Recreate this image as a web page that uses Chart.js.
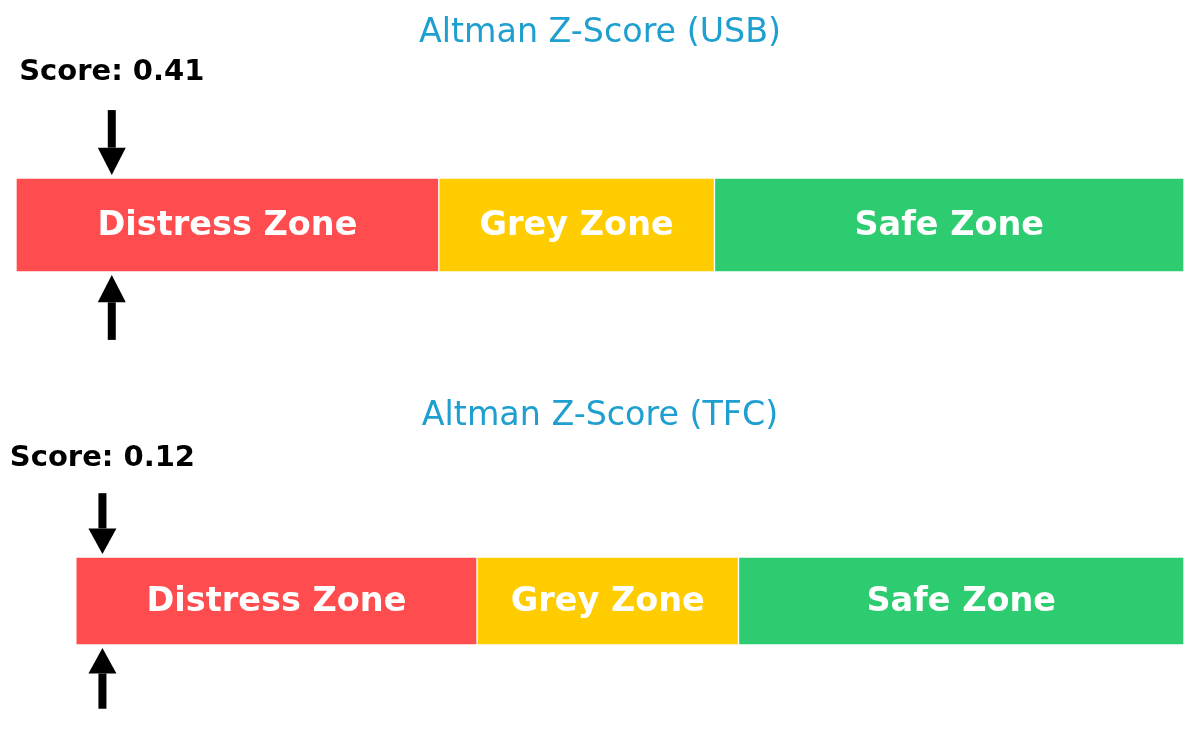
<!DOCTYPE html>
<html>
<head>
<meta charset="utf-8">
<script src="https://cdn.jsdelivr.net/npm/chart.js@4/dist/chart.umd.min.js"></script>
<style>
  body { margin: 0; background: #fff; }
  .panel { position: absolute; left: 0; width: 1200px; height: 377px; }
</style>
</head>
<body>
<div class="panel" style="top:0"><canvas id="chartUSB"></canvas></div>
<div class="panel" style="top:377px"><canvas id="chartTFC"></canvas></div>
<script>
// values
const companies = ['USB', 'TFC'];
const scores = [0.41, 0.12];
const zoneNames = ['Distress Zone', 'Grey Zone', 'Safe Zone'];
const zoneEdges = [0, 1.81, 2.99, 5];
const axisMin = [0, -0.27];
const axisMax = [5, 5];

const zoneColors = ['#ff4d4f', '#ffcc00', '#2ecc71'];
const font = "'DejaVu Sans', sans-serif";

function drawArrow(ctx, x, yTail, yTip, headLen) {
  const dir = yTip > yTail ? 1 : -1;
  const headBase = yTip - dir * headLen;
  ctx.fillStyle = '#000';
  ctx.fillRect(x - 4, Math.min(yTail, headBase), 8, Math.abs(headBase - yTail));
  ctx.beginPath();
  ctx.moveTo(x - 14, headBase);
  ctx.lineTo(x + 14, headBase);
  ctx.lineTo(x, yTip);
  ctx.closePath();
  ctx.fill();
}

const zonePlugin = {
  id: 'zones',
  afterDatasetsDraw(chart) {
    const ctx = chart.ctx;
    ctx.save();
    ctx.fillStyle = '#fff';
    ctx.font = 'bold 33.5px ' + font;
    ctx.textAlign = 'center';
    ctx.textBaseline = 'middle';
    chart.data.datasets.forEach((ds, i) => {
      const bar = chart.getDatasetMeta(i).data[0];
      const props = bar.getProps(['x', 'base', 'y']);
      ctx.fillText(ds.label, (props.x + props.base) / 2, props.y + 1);
    });
    ctx.restore();
  },
  afterDraw(chart) {
    const idx = chart.options.plugins.zones.index;
    const ctx = chart.ctx;
    const area = chart.chartArea;
    const h = area.bottom - area.top;
    const x = chart.scales.x.getPixelForValue(scores[idx]);
    const len = 0.69 * h;
    const head = 0.29 * h;
    ctx.save();
    drawArrow(ctx, x, area.top - 3 - len, area.top - 3, head);
    drawArrow(ctx, x, area.bottom + 3 + len, area.bottom + 3, head);
    ctx.fillStyle = '#000';
    ctx.font = 'bold 29px ' + font;
    ctx.textAlign = 'center';
    ctx.textBaseline = 'middle';
    ctx.fillText('Score: ' + scores[idx].toFixed(2), x, area.top - 1.15 * h + 3);
    ctx.restore();
  }
};

const titlePad = [{ top: 13, bottom: 125 }, { top: 19, bottom: 121 }];
const bottomPad = [105, 109];

companies.forEach((name, idx) => {
  const ctx = document.getElementById('chart' + name).getContext('2d');
  // eslint-disable-next-line no-unused-vars
  const chart = new Chart(ctx, {
    type: 'bar',
    plugins: [zonePlugin],
    data: {
      labels: [name],
      datasets: zoneNames.map((z, i) => ({
        label: z,
        data: [zoneEdges[i + 1] - zoneEdges[i]],
        backgroundColor: zoneColors[i],
        borderColor: '#fff',
        borderWidth: 1,
        borderSkipped: false,
        barPercentage: 1,
        categoryPercentage: 1
      }))
    },
    options: {
      indexAxis: 'y',
      responsive: true,
      maintainAspectRatio: false,
      animation: false,
      layout: { padding: { left: 16, right: 16, top: 0, bottom: bottomPad[idx] } },
      scales: {
        x: { stacked: true, display: false, min: axisMin[idx], max: axisMax[idx] },
        y: { stacked: true, display: false }
      },
      plugins: {
        legend: { display: false },
        tooltip: { enabled: false },
        zones: { index: idx },
        title: {
          display: true,
          text: 'Altman Z-Score (' + name + ')',
          color: '#1e9fd0',
          font: { family: font, size: 33.3, weight: 'normal', lineHeight: 1.2 },
          padding: titlePad[idx]
        }
      }
    }
  });
});
</script>
</body>
</html>
